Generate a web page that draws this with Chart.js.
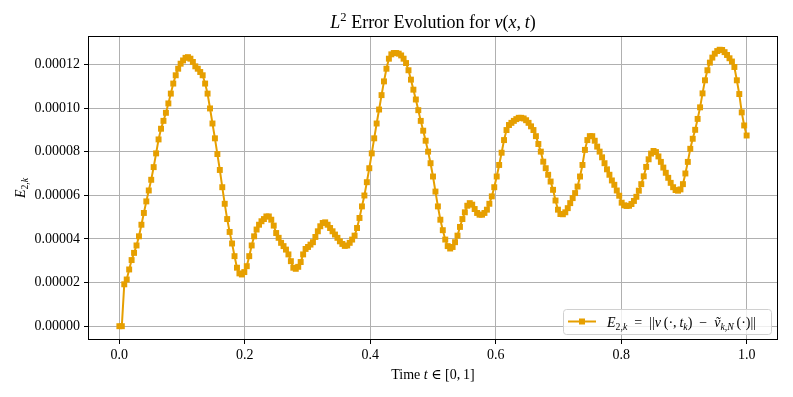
<!DOCTYPE html>
<html>
<head>
<meta charset="utf-8">
<script src="https://cdn.jsdelivr.net/npm/chart.js@4"></script>
<style>
  body { margin: 0; background: #ffffff; }
  #wrap { width: 793px; height: 397px; }
</style>
</head>
<body>
<div id="wrap"><canvas id="graficoError" width="793" height="397"></canvas></div>
<script>
// ==========================================
// L2 error evolution, E_{2,k} over t in [0,1]
// ==========================================

// error values, in units of 1e-5, one per time step t_k = k / N_STEPS
const errVals = [
  0, 0, 1.92, 2.14, 2.60, 3.03, 3.36, 3.70, 4.12, 4.65,
  5.19, 5.72, 6.22, 6.71, 7.29, 7.92, 8.56, 9.05, 9.41, 9.78,
  10.21, 10.66, 11.12, 11.50, 11.80, 12.03, 12.18, 12.30, 12.33, 12.26,
  12.11, 11.91, 11.80, 11.65, 11.50, 11.12, 10.66, 9.98, 9.29, 8.61,
  7.89, 7.16, 6.37, 5.61, 4.91, 4.32, 3.79, 3.21, 2.68, 2.42,
  2.37, 2.48, 2.75, 3.21, 3.70, 4.12, 4.43, 4.65, 4.81, 4.91,
  5.03, 5.03, 4.88, 4.61, 4.27, 4.05, 3.82, 3.67, 3.51, 3.29,
  2.98, 2.68, 2.63, 2.72, 2.94, 3.29, 3.54, 3.63, 3.74, 3.85,
  4.09, 4.35, 4.58, 4.73, 4.76, 4.65, 4.50, 4.35, 4.20, 4.05,
  3.89, 3.77, 3.68, 3.70, 3.82, 3.97, 4.15, 4.50, 4.96, 5.49,
  5.99, 6.60, 7.24, 7.92, 8.61, 9.29, 9.93, 10.59, 11.22, 11.80,
  12.26, 12.46, 12.52, 12.52, 12.49, 12.41, 12.26, 12.06, 11.73, 11.30,
  10.84, 10.39, 9.90, 9.41, 8.96, 8.50, 8.00, 7.47, 6.86, 6.17,
  5.49, 4.88, 4.40, 3.97, 3.67, 3.56, 3.63, 3.85, 4.15, 4.55,
  4.91, 5.22, 5.52, 5.64, 5.57, 5.37, 5.19, 5.11, 5.11, 5.19,
  5.34, 5.61, 5.95, 6.37, 6.86, 7.39, 7.95, 8.53, 8.99, 9.22,
  9.32, 9.41, 9.49, 9.55, 9.55, 9.52, 9.44, 9.32, 9.16, 8.99,
  8.71, 8.35, 8.00, 7.54, 7.24, 6.94, 6.63, 6.25, 5.76, 5.34,
  5.14, 5.13, 5.22, 5.41, 5.64, 5.87, 6.10, 6.40, 6.86, 7.39,
  8.08, 8.53, 8.71, 8.71, 8.50, 8.23, 8.00, 7.74, 7.47, 7.19,
  6.94, 6.68, 6.48, 6.22, 5.98, 5.66, 5.54, 5.51, 5.52, 5.60,
  5.74, 5.93, 6.21, 6.51, 6.87, 7.30, 7.65, 7.91, 8.03, 7.98,
  7.78, 7.53, 7.27, 7.03, 6.80, 6.57, 6.37, 6.24, 6.21, 6.27,
  6.51, 7.00, 7.53, 8.13, 8.59, 9.00, 9.50, 10.03, 10.67, 11.27,
  11.73, 12.08, 12.31, 12.49, 12.61, 12.67, 12.66, 12.56, 12.43, 12.28,
  12.13, 11.88, 11.27, 10.64, 9.80, 9.20, 8.74
];
const N_STEPS = 256;
const ERR_UNIT = 1e-5;

const xTicks = [0, 0.2, 0.4, 0.6, 0.8, 1.0];
const yTicks = [0, 2, 4, 6, 8, 10, 12];

const NARANJA = '#e69f00';
const SERIF = '"Liberation Serif", "DejaVu Serif", serif';

// texto con cursivas / subindices
function ponerFuente(ctx, kind, size) {
  const italic = kind.indexOf('i') >= 0 && kind !== 'sup';
  const small = kind.startsWith('sub') || kind === 'sup';
  ctx.font = `${italic ? 'italic ' : ''}${small ? size * 0.7 : size}px ${SERIF}`;
}
function anchoRico(ctx, runs, size) {
  let w = 0;
  runs.forEach(([t, k]) => { ponerFuente(ctx, k, size); w += ctx.measureText(t).width; });
  return w;
}
function textoRico(ctx, runs, x, y, size, align) {
  ctx.save();
  ctx.textAlign = 'left';
  ctx.textBaseline = 'alphabetic';
  ctx.fillStyle = '#000';
  const w = anchoRico(ctx, runs, size);
  let cx = align === 'left' ? x : x - w / 2;
  runs.forEach(([t, k]) => {
    ponerFuente(ctx, k, size);
    let dy = 0;
    if (k.startsWith('sub')) dy = size * 0.22;
    if (k === 'sup') dy = -size * 0.4;
    ctx.fillText(t, cx, y + dy);
    cx += ctx.measureText(t).width;
  });
  ctx.restore();
}

const tituloRuns = [['L', 'i'], ['2', 'sup'], [' Error Evolution for ', 'r'], ['v', 'i'], ['(', 'r'],
  ['x', 'i'], [',\u2009', 'r'], ['t', 'i'], [')', 'r']];
const ejeXRuns = [['Time ', 'r'], ['t', 'i'], [' \u2208 [0,\u20091]', 'r']];
const ejeYRuns = [['E', 'i'], ['2,', 'sub'], ['k', 'subi']];
const leyendaRuns = [['E', 'i'], ['2,', 'sub'], ['k', 'subi'], ['\u2002=\u2002||', 'r'], ['v', 'i'],
  ['\u2009(\u00b7,\u2009', 'r'], ['t', 'i'], ['k', 'subi'], [')\u2002\u2212\u2002', 'r'], ['\u1e7d', 'i'],
  ['k,N', 'subi'], ['\u2009(\u00b7)||', 'r']];

const textos = {
  id: 'textos',
  afterDatasetsDraw(chart) {
    const { ctx, chartArea: { left, top, right, bottom } } = chart;
    // marco completo
    ctx.save();
    ctx.strokeStyle = '#000';
    ctx.lineWidth = 1;
    ctx.strokeRect(left + 0.5, top + 0.5, right - left - 1, bottom - top - 1);
    ctx.restore();
  },
  afterDraw(chart) {
    const { ctx, chartArea: { left, top, right, bottom } } = chart;
    const cx = (left + right) / 2;
    textoRico(ctx, tituloRuns, cx, 28, 18, 'center');
    textoRico(ctx, ejeXRuns, cx, 379, 14, 'center');

    ctx.save();
    ctx.translate(25, (top + bottom) / 2);
    ctx.rotate(-Math.PI / 2);
    textoRico(ctx, ejeYRuns, 0, 0, 14, 'center');
    ctx.restore();

    // leyenda
    const bx = 563, by = 309, bw = 208, bh = 25;
    ctx.save();
    ctx.beginPath();
    ctx.roundRect(bx + 0.5, by + 0.5, bw, bh, 3);
    ctx.fillStyle = 'rgba(255,255,255,0.8)';
    ctx.fill();
    ctx.strokeStyle = '#d0d0d0';
    ctx.lineWidth = 1;
    ctx.stroke();
    ctx.strokeStyle = NARANJA;
    ctx.lineWidth = 2;
    ctx.beginPath();
    ctx.moveTo(bx + 5, by + 12.5);
    ctx.lineTo(bx + 33, by + 12.5);
    ctx.stroke();
    ctx.fillStyle = NARANJA;
    ctx.fillRect(bx + 19 - 3, by + 12.5 - 3, 6, 6);
    ctx.restore();
    textoRico(ctx, leyendaRuns, bx + 44, by + 18, 14, 'left');
  }
};

const puntos = errVals.map((v, k) => ({ x: k / N_STEPS, y: v }));

new Chart(document.getElementById('graficoError').getContext('2d'), {
  type: 'line',
  data: {
    datasets: [{
      label: 'E2k',
      data: puntos,
      borderColor: NARANJA,
      backgroundColor: NARANJA,
      borderWidth: 2,
      pointStyle: 'rect',
      pointRadius: 4.2,
      pointBorderWidth: 0,
      pointBackgroundColor: NARANJA,
      tension: 0,
      fill: false
    }]
  },
  options: {
    responsive: false,
    devicePixelRatio: 1,
    animation: false,
    layout: { padding: { top: 36, right: 15, left: 0, bottom: 0 } },
    plugins: { legend: { display: false }, title: { display: false }, tooltip: { enabled: false } },
    scales: {
      x: {
        type: 'linear', min: -0.05, max: 1.05,
        afterBuildTicks: s => { s.ticks = xTicks.map(v => ({ value: v })); },
        afterFit: s => { s.height = 57; },
        ticks: { callback: v => v.toFixed(1), color: '#000', font: { family: SERIF, size: 14 }, padding: 3, maxRotation: 0, autoSkip: false },
        grid: { color: '#b0b0b0', lineWidth: 1, tickColor: '#000', tickLength: 4 },
        border: { display: false }
      },
      y: {
        type: 'linear', min: -0.633, max: 13.30,
        afterBuildTicks: s => { s.ticks = yTicks.map(v => ({ value: v })); },
        afterFit: s => { s.width = 88; },
        ticks: { callback: v => (v * ERR_UNIT).toFixed(5), color: '#000', font: { family: SERIF, size: 14 }, padding: 4, autoSkip: false },
        grid: { color: '#b0b0b0', lineWidth: 1, tickColor: '#000', tickLength: 4 },
        border: { display: false }
      }
    }
  },
  plugins: [textos]
});
</script>
</body>
</html>
